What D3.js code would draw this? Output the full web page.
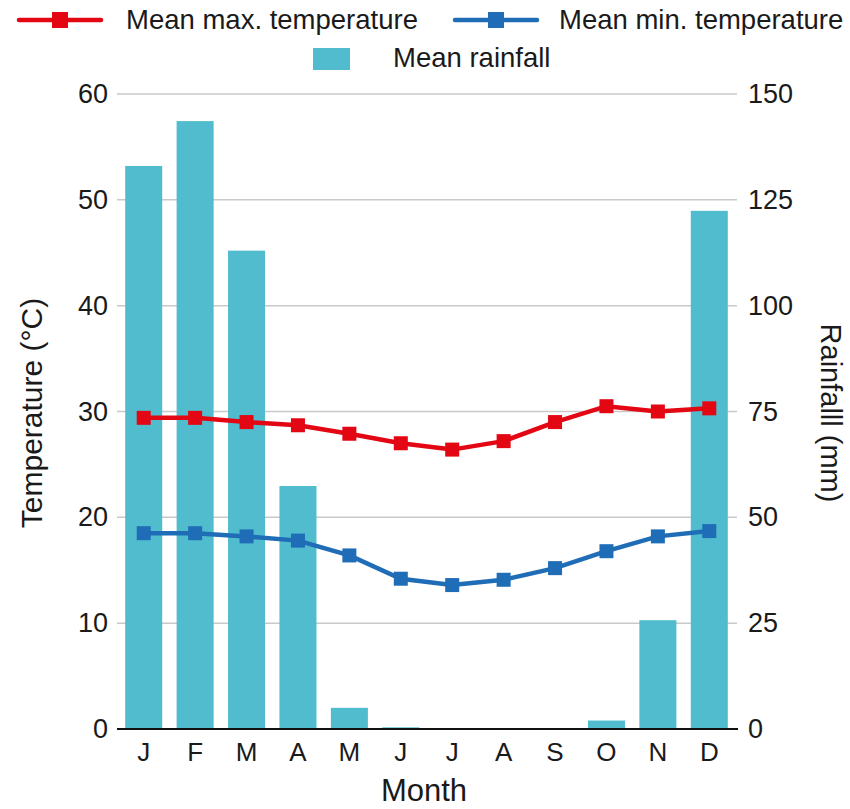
<!DOCTYPE html>
<html>
<head>
<meta charset="utf-8">
<script src="https://cdn.jsdelivr.net/npm/d3@7"></script>
<style>
  body { margin: 0; background: #fff; }
  text { font-family: "Liberation Sans", Arial, sans-serif; fill: #1a1a1a; }
</style>
</head>
<body>
<div id="chart"></div>
<script>
(function (d3) {
    'use strict';

    const months = ['J', 'F', 'M', 'A', 'M', 'J', 'J', 'A', 'S', 'O', 'N', 'D'];
    const rainfall = [133, 143.6, 113, 57.4, 5, 0.4, 0, 0, 0, 2, 25.7, 122.4];
    const maxTemp = [29.4, 29.4, 29.0, 28.7, 27.9, 27.0, 26.4, 27.2, 29.0, 30.5, 30.0, 30.3];
    const minTemp = [18.5, 18.5, 18.2, 17.8, 16.4, 14.2, 13.6, 14.1, 15.2, 16.8, 18.2, 18.7];
    const tempTicks = [0, 10, 20, 30, 40, 50, 60];
    const rainTicks = [0, 25, 50, 75, 100, 125, 150];

    var width = 850,
        height = 809,
        left = 118,
        right = 735,
        top = 94,
        bottom = 729;

    var svg = d3.select('#chart').append('svg')
        .attr('width', width)
        .attr('height', height);

    var x = d3.scaleBand()
        .domain(d3.range(months.length))
        .range([left, right])
        .paddingInner(0.28)
        .paddingOuter(0.14);

    var yT = d3.scaleLinear().domain([0, 60]).range([bottom, top]);
    var yR = d3.scaleLinear().domain([0, 150]).range([bottom, top]);

    // grid
    svg.append('g').selectAll('line').data(tempTicks.slice(1)).enter()
        .append('line')
            .attr('x1', left - 1).attr('x2', right + 2)
            .attr('y1', d => yT(d)).attr('y2', d => yT(d))
            .attr('stroke', '#c9c9c9').attr('stroke-width', 1.5);

    // left axis
    var leftAxis = svg.append('g')
        .attr('transform', 'translate(' + left + ',0)')
        .call(d3.axisLeft(yT).tickValues(tempTicks).tickSize(0).tickPadding(10));
    leftAxis.select('.domain').remove();
    leftAxis.selectAll('text').style('font-size', '27px').attr('fill', '#1a1a1a');

    // right axis
    var rightAxis = svg.append('g')
        .attr('transform', 'translate(' + right + ',0)')
        .call(d3.axisRight(yR).tickValues(rainTicks).tickSize(0).tickPadding(13));
    rightAxis.select('.domain').remove();
    rightAxis.selectAll('text').style('font-size', '27px').attr('fill', '#1a1a1a');

    // bars
    svg.append('g').selectAll('rect').data(rainfall).enter()
        .append('rect')
            .attr('x', (d, i) => x(i))
            .attr('width', x.bandwidth())
            .attr('y', d => yR(d))
            .attr('height', d => bottom - yR(d))
            .attr('fill', '#51bccd');

    // baseline
    svg.append('line')
        .attr('x1', left - 1).attr('x2', right + 3)
        .attr('y1', bottom).attr('y2', bottom)
        .attr('stroke', '#111').attr('stroke-width', 2);

    // x axis labels
    var xAxis = svg.append('g')
        .attr('transform', 'translate(0,' + bottom + ')')
        .call(d3.axisBottom(x).tickFormat(i => months[i]).tickSize(0).tickPadding(14));
    xAxis.select('.domain').remove();
    xAxis.selectAll('text').style('font-size', '26px').attr('fill', '#1a1a1a');

    // lines
    function drawSeries(values, color) {
        var line = d3.line()
            .x((d, i) => x(i) + x.bandwidth() / 2)
            .y(d => yT(d));
        svg.append('path')
            .datum(values)
            .attr('d', line)
            .attr('fill', 'none')
            .attr('stroke', color)
            .attr('stroke-width', 4.5);
        svg.append('g').selectAll('rect').data(values).enter()
            .append('rect')
                .attr('x', (d, i) => x(i) + x.bandwidth() / 2 - 7)
                .attr('y', d => yT(d) - 7)
                .attr('width', 14).attr('height', 14)
                .attr('fill', color);
    }
    drawSeries(maxTemp, '#e30613');
    drawSeries(minTemp, '#1f6db6');

    // axis titles
    svg.append('text')
        .attr('transform', 'translate(42,413) rotate(-90)')
        .attr('text-anchor', 'middle')
        .style('font-size', '30px')
        .text('Temperature (°C)');

    svg.append('text')
        .attr('transform', 'translate(821,413) rotate(90)')
        .attr('text-anchor', 'middle')
        .style('font-size', '29px')
        .text('Rainfalll (mm)');

    svg.append('text')
        .attr('x', 424).attr('y', 801)
        .attr('text-anchor', 'middle')
        .style('font-size', '31px')
        .text('Month');

    // legend
    var legend = svg.append('g');
    [
        { label: 'Mean max. temperature', color: '#e30613', x0: 19, tx: 126 },
        { label: 'Mean min. temperature', color: '#1f6db6', x0: 455, tx: 559 }
    ].forEach(function (item) {
        legend.append('line')
            .attr('x1', item.x0).attr('x2', item.x0 + 82)
            .attr('y1', 20).attr('y2', 20)
            .attr('stroke', item.color).attr('stroke-width', 4.5)
            .attr('stroke-linecap', 'round');
        legend.append('rect')
            .attr('x', item.x0 + 41 - 8).attr('y', 12)
            .attr('width', 16).attr('height', 16)
            .attr('fill', item.color);
        legend.append('text')
            .attr('x', item.tx).attr('y', 29)
            .style('font-size', '27.5px')
            .text(item.label);
    });
    legend.append('rect')
        .attr('x', 313).attr('y', 48)
        .attr('width', 37).attr('height', 22)
        .attr('fill', '#51bccd');
    legend.append('text')
        .attr('x', 393).attr('y', 67)
        .style('font-size', '27.5px')
        .text('Mean rainfall');
})(d3);
</script>
</body>
</html>
